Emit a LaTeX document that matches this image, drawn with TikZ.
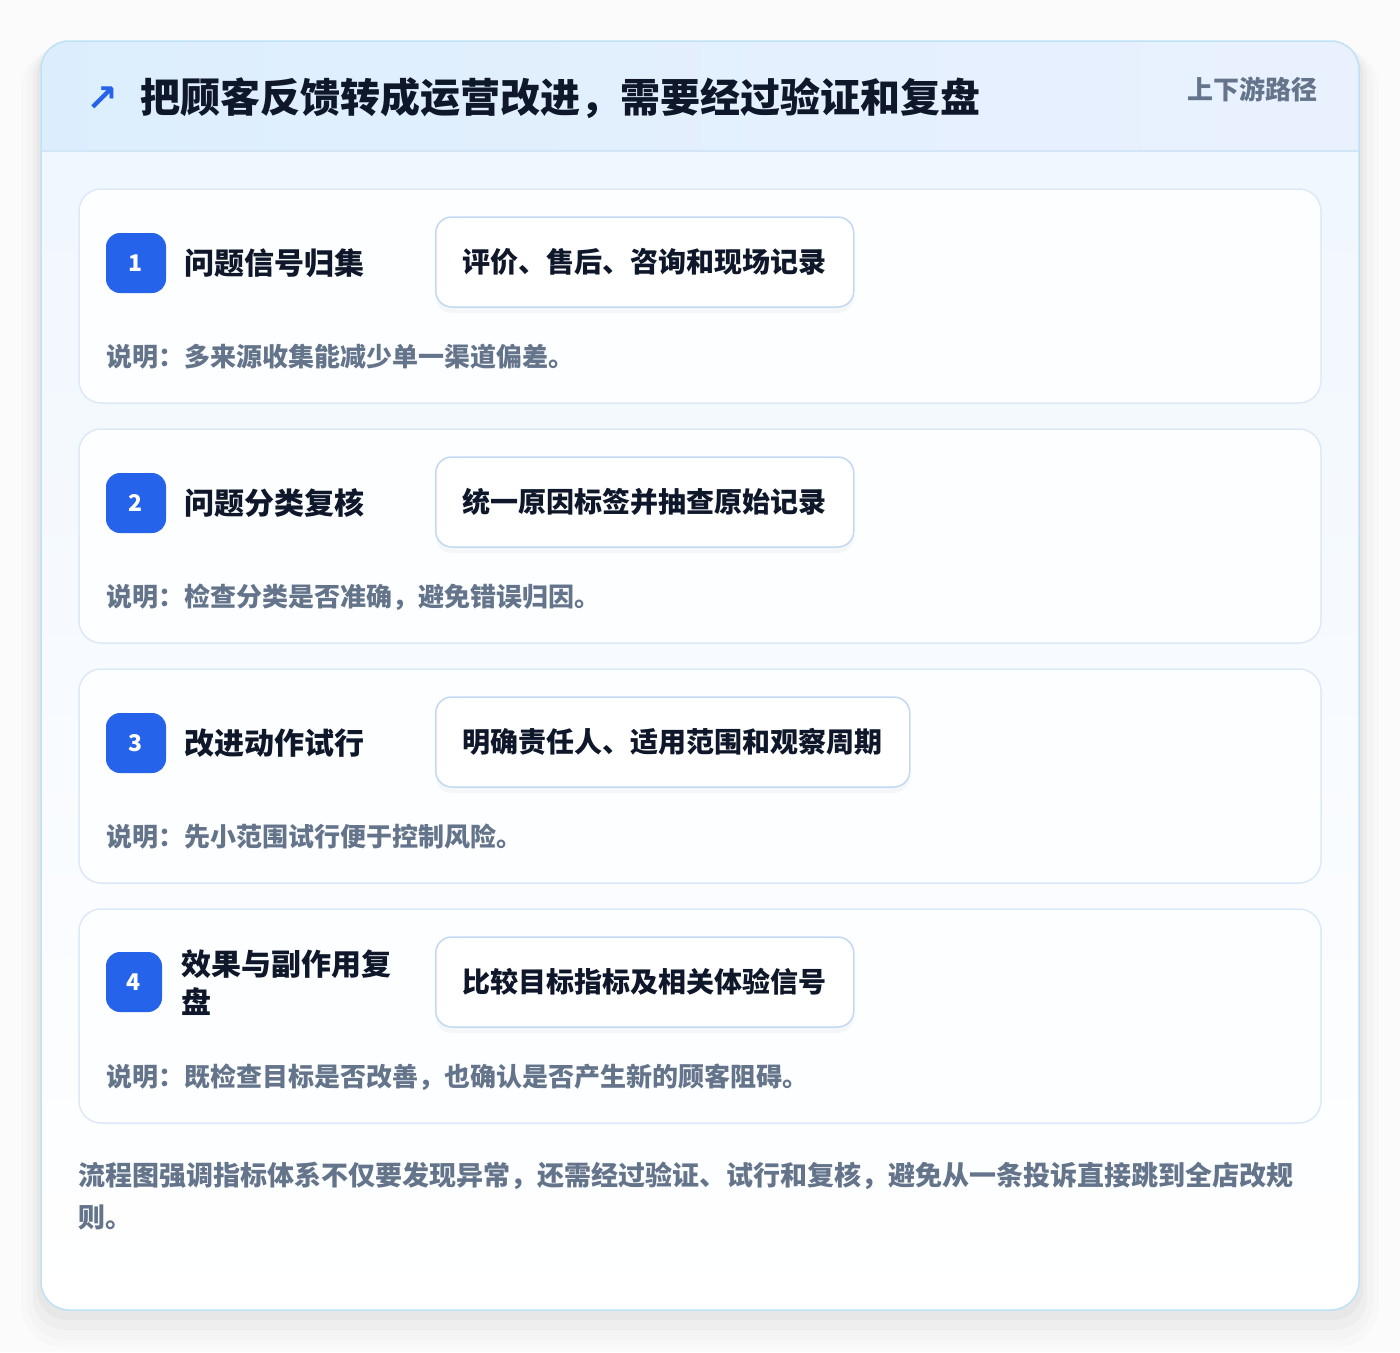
\documentclass[tikz,border=0pt]{standalone}
\usepackage{fontspec}
\newfontfamily\cjk{Noto Sans CJK SC}
\newfontfamily\symfont{DejaVu Sans}
\usetikzlibrary{positioning, shadows}

\definecolor{pagebg}{HTML}{FBFBFC}
\definecolor{frameline}{HTML}{BEE1F6}
\definecolor{headleft}{HTML}{DCEEFD}
\definecolor{headright}{HTML}{EAF1FE}
\definecolor{headrule}{HTML}{D2E6F7}
\definecolor{bodytop}{HTML}{EFF6FE}
\definecolor{cardline}{HTML}{DCEAF8}
\definecolor{cardfill}{HTML}{FDFEFF}
\definecolor{tagline}{HTML}{C3D8F3}
\definecolor{badgeblue}{HTML}{2563EB}
\definecolor{titleink}{HTML}{0F172A}
\definecolor{noteink}{HTML}{64748B}

\begin{document}
\begin{tikzpicture}[
    x=1pt, y=-1pt,
    % Step card style - large rounded panels
    card/.style={
        rectangle,
        draw=cardline,
        line width=1.5pt,
        rounded corners=22pt,
        fill=cardfill,
        minimum width=1242pt,
        minimum height=214pt
    },
    % Number badge style
    badge/.style={
        rectangle,
        rounded corners=14pt,
        fill=badgeblue,
        text=white,
        inner sep=0pt,
        minimum width=60pt,
        minimum height=60pt,
        font=\cjk\bfseries\fontsize{23}{26}\selectfont
    },
    % Step title style
    steptitle/.style={
        anchor=west,
        inner sep=0pt,
        align=left,
        text=titleink,
        font=\cjk\bfseries\fontsize{30}{38}\selectfont
    },
    % Tag box style - white box with soft shadow
    tagbox/.style={
        rectangle,
        anchor=west,
        draw=tagline,
        line width=1.5pt,
        rounded corners=16pt,
        fill=white,
        minimum height=90pt,
        inner xsep=27pt,
        text=titleink,
        font=\cjk\bfseries\fontsize{28}{34}\selectfont,
        drop shadow={shadow xshift=0pt, shadow yshift=-6pt, opacity=0.03, fill=black}
    },
    % Note line style
    note/.style={
        anchor=west,
        inner sep=0pt,
        text=noteink,
        font=\cjk\bfseries\fontsize{26}{30}\selectfont
    }
]

\useasboundingbox (0,0) rectangle (1400,1352);
\fill[pagebg] (0,0) rectangle (1400,1352);

% === Outer frame with soft shadow ===
\fill[black, opacity=0.012, rounded corners=44pt] (21,46) rectangle (1379,1348);
\fill[black, opacity=0.016, rounded corners=38pt] (27,46) rectangle (1373,1340);
\fill[black, opacity=0.022, rounded corners=32pt] (33,46) rectangle (1367,1330);
\fill[black, opacity=0.028, rounded corners=30pt] (37,46) rectangle (1363,1320);

\shade[top color=bodytop, bottom color=white, rounded corners=28pt]
      (41,41) rectangle (1359,1310);
\begin{scope}
    \clip[rounded corners=28pt] (41,41) rectangle (1359,1310);
    \shade[left color=headleft, right color=headright] (41,41) rectangle (1359,151);
    \draw[headrule, line width=1.5pt] (41,151) -- (1359,151);
\end{scope}
\draw[frameline, line width=1.5pt, rounded corners=28pt] (41,41) rectangle (1359,1310);

% === Header ===
\node[inner sep=0pt, text=badgeblue, font=\symfont\bfseries\fontsize{38}{40}\selectfont]
      (icon) at (102, 99) {↗};
\node[anchor=west, inner sep=0pt, text=titleink, font=\cjk\bfseries\fontsize{40}{46}\selectfont]
      (title) at (140, 98) {把顾客反馈转成运营改进，需要经过验证和复盘};
\node[anchor=east, inner sep=0pt, text=noteink, font=\cjk\bfseries\fontsize{26}{30}\selectfont]
      (route) at (1318, 89) {上下游路径};

% === Step 1 ===
\node[card] (card1) at (700, 296) {};
\node[badge] (badge1) at (136, 263) {1};
\node[steptitle] (name1) at (184, 263) {问题信号归集};
\node[tagbox] (tag1) at (435, 262) {评价、售后、咨询和现场记录};
\node[note] (note1) at (106, 357) {说明：多来源收集能减少单一渠道偏差。};

% === Step 2 ===
\node[card] (card2) at (700, 536) {};
\node[badge] (badge2) at (136, 503) {2};
\node[steptitle] (name2) at (184, 503) {问题分类复核};
\node[tagbox] (tag2) at (435, 502) {统一原因标签并抽查原始记录};
\node[note] (note2) at (106, 597) {说明：检查分类是否准确，避免错误归因。};

% === Step 3 ===
\node[card] (card3) at (700, 776) {};
\node[badge] (badge3) at (136, 743) {3};
\node[steptitle] (name3) at (184, 743) {改进动作试行};
\node[tagbox] (tag3) at (435, 742) {明确责任人、适用范围和观察周期};
\node[note] (note3) at (106, 837) {说明：先小范围试行便于控制风险。};

% === Step 4 ===
\node[card] (card4) at (700, 1016) {};
\node[badge, minimum width=56pt] (badge4) at (134, 982) {4};
\node[steptitle] (name4) at (181, 983) {效果与副作用复\\盘};
\node[tagbox] (tag4) at (435, 982) {比较目标指标及相关体验信号};
\node[note] (note4) at (106, 1077) {说明：既检查目标是否改善，也确认是否产生新的顾客阻碍。};

% === Footer remark ===
\node[anchor=west, inner sep=0pt, align=left, text=noteink,
      font=\cjk\bfseries\fontsize{27}{42}\selectfont]
      (remark) at (78, 1196)
      {流程图强调指标体系不仅要发现异常，还需经过验证、试行和复核，避免从一条投诉直接跳到全店改规\\则。};

\end{tikzpicture}
\end{document}
